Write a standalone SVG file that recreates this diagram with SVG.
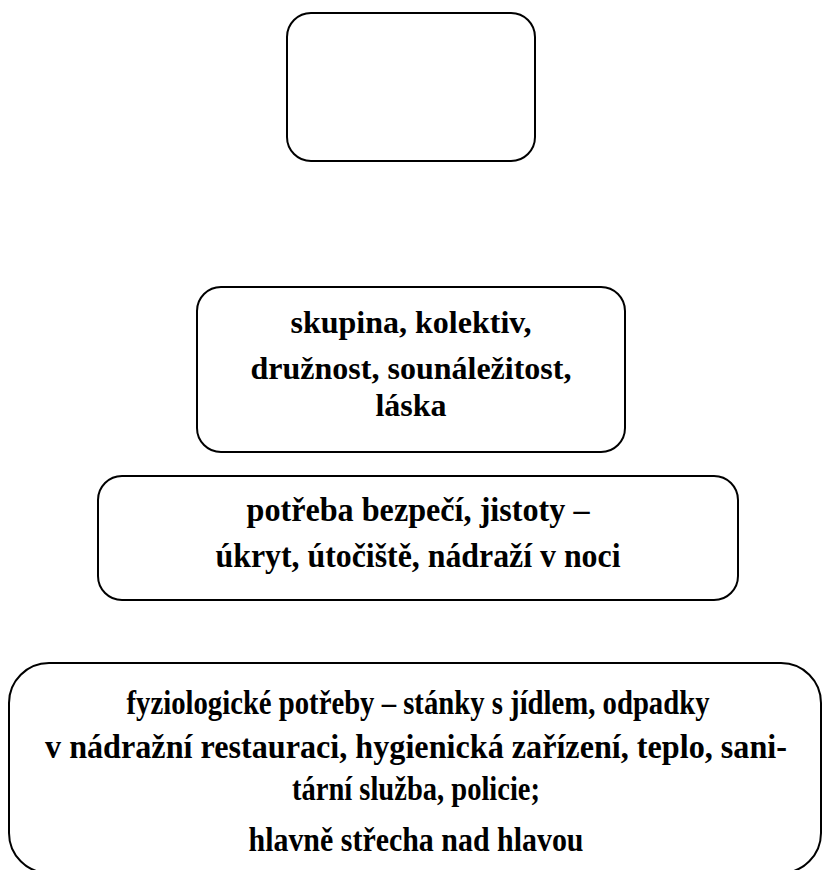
<svg xmlns="http://www.w3.org/2000/svg" width="824" height="870" viewBox="0 0 824 870">
<style>
.box{fill:#fff;stroke:#000;stroke-width:2}
.t{font-family:"Liberation Serif","Times New Roman",serif;font-weight:bold;font-size:32px;fill:#000;text-anchor:middle}
.m{font-size:33px}
.b{font-size:33px}
</style>
<rect width="824" height="870" fill="#fff"/>
<g id="connectors"></g>
<g id="node-top">
<rect class="box" x="287" y="13" width="248" height="148" rx="24"/>
</g>
<g id="node-social">
<rect class="box" x="197" y="287" width="428" height="165" rx="24"/>
<text class="t" x="411" y="333">skupina, kolektiv,</text>
<text class="t" x="411" y="379">družnost, sounáležitost,</text>
<text class="t" x="411" y="416">láska</text>
</g>
<g id="node-safety">
<rect class="box" x="98" y="476" width="640" height="124" rx="24"/>
<text class="t m" x="418" y="521" textLength="343" lengthAdjust="spacingAndGlyphs">potřeba bezpečí, jistoty –</text>
<text class="t m" x="418" y="567" textLength="405" lengthAdjust="spacingAndGlyphs">úkryt, útočiště, nádraží v noci</text>
</g>
<g id="node-physio">
<rect class="box" x="9" y="663" width="812" height="210" rx="40"/>
<text class="t b" x="418" y="714" textLength="583" lengthAdjust="spacingAndGlyphs">fyziologické potřeby – stánky s jídlem, odpadky</text>
<text class="t b" x="416" y="758" textLength="742" lengthAdjust="spacingAndGlyphs">v nádražní restauraci, hygienická zařízení, teplo, sani-</text>
<text class="t b" x="416" y="800" textLength="248" lengthAdjust="spacingAndGlyphs">tární služba, policie;</text>
<text class="t b" x="416" y="851" textLength="335" lengthAdjust="spacingAndGlyphs">hlavně střecha nad hlavou</text>
</g>
</svg>
